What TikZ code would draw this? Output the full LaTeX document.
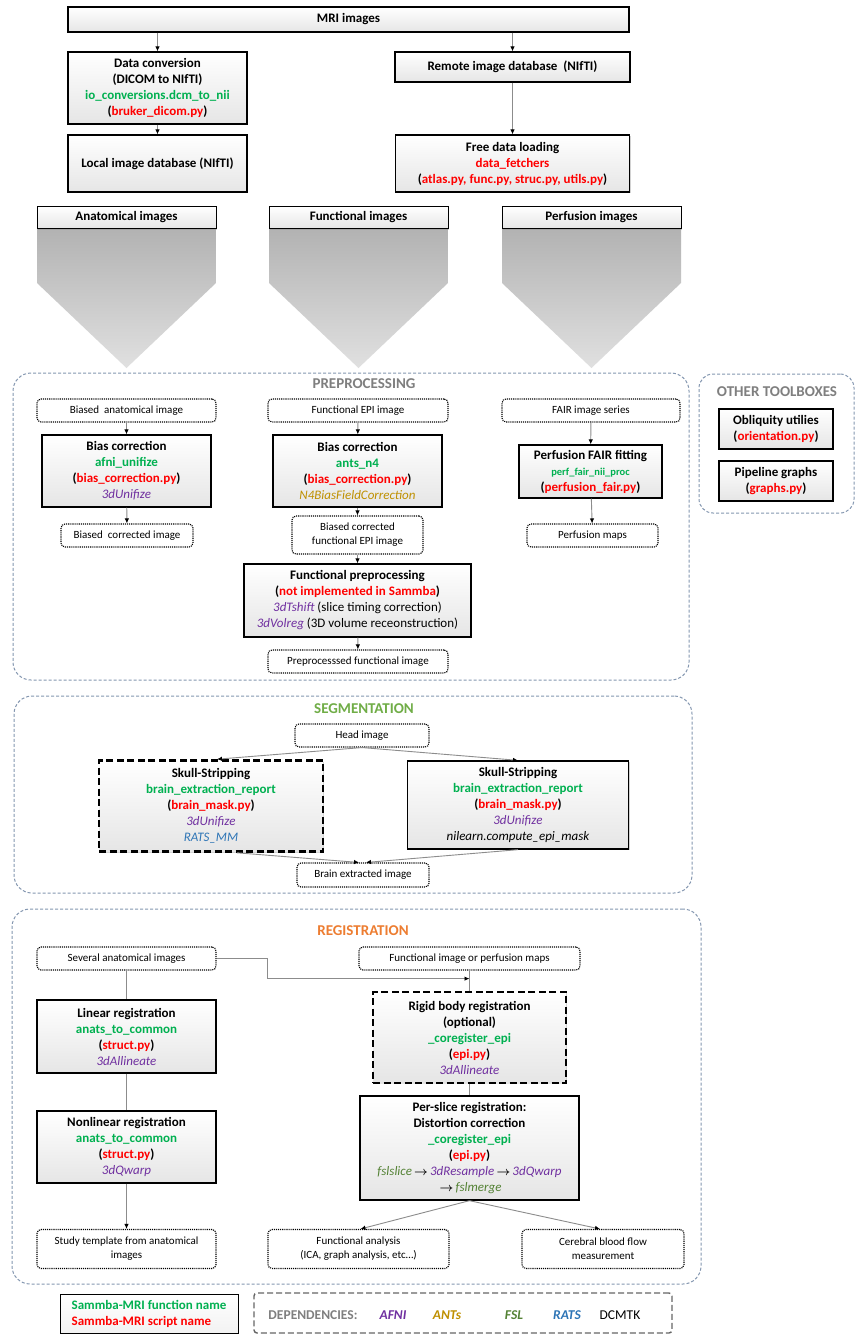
\documentclass[tikz,border=0pt]{standalone}
\usepackage{fontspec}
\setmainfont{Carlito}
\usetikzlibrary{arrows.meta,shadows,calc}
\definecolor{fgreen}{HTML}{00B050}
\definecolor{sred}{HTML}{FF0000}
\definecolor{afni}{HTML}{7030A0}
\definecolor{antsc}{HTML}{BF9000}
\definecolor{fslc}{HTML}{548235}
\definecolor{ratsc}{HTML}{2E75B6}
\definecolor{tgray}{HTML}{7F7F7F}
\definecolor{segc}{HTML}{70AD47}
\definecolor{regc}{HTML}{ED7D31}
\definecolor{framec}{HTML}{8497B0}
\definecolor{connc}{HTML}{8C8C8C}
\newcommand\fnm[1]{\textcolor{fgreen}{#1}}
\newcommand\snm[1]{(\textcolor{sred}{#1})}
\newcommand\afn[1]{\textcolor{afni}{\mdseries\itshape #1}}
\newcommand\fsln[1]{\textcolor{fslc}{\mdseries\itshape #1}}
\newcommand\rarr{\,{\boldmath$\rightarrow$}\,}
\tikzset{
  sbox/.style={draw=black, line width=1.3pt, top color=white, bottom color=black!10,
    align=center, inner sep=1pt, font=\fontsize{13}{16}\selectfont\bfseries,
    drop shadow={shadow xshift=1.3pt, shadow yshift=-1.3pt, opacity=.35}},
  tbox/.style={sbox, line width=2.6pt, dash pattern=on 7pt off 3.5pt},
  hbox/.style={draw=black, line width=1pt, top color=white, bottom color=black!10,
    align=center, inner sep=1pt, font=\fontsize{13}{16}\selectfont\bfseries,
    drop shadow={shadow xshift=1pt, shadow yshift=-1pt, opacity=.3}},
  dbox/.style={draw=black, densely dotted, line width=1.1pt, rounded corners=4pt,
    fill=white, align=center, inner sep=1pt, font=\fontsize{11}{14}\selectfont},
  cont/.style={draw=framec, line width=1pt, dash pattern=on 3pt off 2pt, rounded corners=18pt},
  ttl/.style={font=\fontsize{15}{18}\selectfont\bfseries},
  arr/.style={draw=connc, line width=0.9pt, -{Latex[length=5pt,width=4.5pt,color=black]}},
  lnk/.style={draw=connc, line width=0.9pt},
  chev/.style={top color=black!30, bottom color=black!12},
}
\begin{document}
\begin{tikzpicture}[x=1pt,y=-1pt]
\useasboundingbox (0,0) rectangle (860,1339);
\fill[white] (0,0) rectangle (860,1339);

% ---------- top ----------
\node[sbox, minimum width=561pt, minimum height=25pt] (mri) at (348.5,19.5) {MRI images};
\node[sbox, minimum width=179pt, minimum height=72pt] (dconv) at (157.5,88)
  {Data conversion\\(DICOM to NIfTI)\\\fnm{io\_conversions.dcm\_to\_nii}\\\snm{bruker\_dicom.py}};
\node[sbox, minimum width=179pt, minimum height=57pt] (local) at (157.5,163.5) {Local image database (NIfTI)};
\node[sbox, minimum width=235pt, minimum height=30pt] (remote) at (512.5,67) {Remote image database\ \ (NIfTI)};
\node[sbox, minimum width=234pt, minimum height=57pt] (free) at (512.5,163.5)
  {Free data loading\\\textcolor{sred}{data\_fetchers}\\\snm{atlas.py, func.py, struc.py, utils.py}};
\draw[arr] (mri.south -| dconv.north) -- (dconv.north);
\draw[arr] (mri.south -| remote.north) -- (remote.north);
\draw[arr] (dconv.south) -- (local.north);
\draw[arr] (remote.south) -- (free.north);

% ---------- chevrons ----------
\shade[chev] (37,229) -- (216,229) -- (216,283) -- (126.5,368) -- (37,283) -- cycle;
\shade[chev] (269,229) -- (448,229) -- (448,283) -- (358.5,368) -- (269,283) -- cycle;
\shade[chev] (502,229) -- (681,229) -- (681,283) -- (591.5,368) -- (502,283) -- cycle;
\node[hbox, minimum width=179pt, minimum height=22pt] (anat) at (126.5,217.5) {Anatomical images};
\node[hbox, minimum width=179pt, minimum height=22pt] (funci) at (358.5,217.5) {Functional images};
\node[hbox, minimum width=179pt, minimum height=22pt] (perfi) at (591.5,217.5) {Perfusion images};

% ---------- preprocessing ----------
\node[cont, minimum width=676pt, minimum height=307pt] (pre) at (351,526.5) {};
\node[ttl, text=tgray] (pretitle) at (364,384) {PREPROCESSING};
\node[dbox, minimum width=179pt, minimum height=23pt] (bai) at (126.5,410.5) {Biased\ \ anatomical image};
\node[sbox, minimum width=169pt, minimum height=72pt] (bc1) at (126.5,471)
  {Bias correction\\\fnm{afni\_unifize}\\\snm{bias\_correction.py}\\\afn{3dUnifize}};
\node[dbox, minimum width=132pt, minimum height=23pt] (bci) at (127,535.5) {Biased\ \ corrected image};
\node[dbox, minimum width=180pt, minimum height=23pt] (fepi) at (358,410.5) {Functional EPI image};
\node[sbox, minimum width=169pt, minimum height=72pt] (bc2) at (357.5,471)
  {Bias correction\\\fnm{ants\_n4}\\\snm{bias\_correction.py}\\\textcolor{antsc}{\mdseries\itshape N4BiasFieldCorrection}};
\node[dbox, minimum width=131pt, minimum height=38pt] (bcf) at (357.5,535) {Biased corrected\\functional EPI image};
\node[sbox, minimum width=227pt, minimum height=73pt] (fpre) at (357.5,600.5)
  {Functional preprocessing\\\snm{not implemented in Sammba}\\\afn{3dTshift} {\mdseries (slice timing correction)}\\\afn{3dVolreg} {\mdseries (3D volume receonstruction)}};
\node[dbox, minimum width=180pt, minimum height=23pt] (pfi) at (358,661.5) {Preprocesssed functional image};
\node[dbox, minimum width=178pt, minimum height=23pt] (fair) at (591,410.5) {FAIR image series};
\node[sbox, minimum width=143pt, minimum height=53pt] (pff) at (590.5,471.5)
  {Perfusion FAIR fitting\\{\fontsize{10.5}{14}\selectfont\fnm{perf\_fair\_nii\_proc}}\\\snm{perfusion\_fair.py}};
\node[dbox, minimum width=131pt, minimum height=23pt] (pm) at (592.5,535.5) {Perfusion maps};
\draw[arr] (bai) -- (bc1);
\draw[arr] (bc1) -- (bci);
\draw[arr] (fepi) -- (bc2);
\draw[arr] (bc2) -- (bcf);
\draw[arr] (bcf) -- (fpre);
\draw[arr] (fpre) -- (pfi);
\draw[arr] (fair) -- (pff);
\draw[arr] (pff) -- (pm);

% ---------- other toolboxes ----------
\node[cont, rounded corners=14pt, minimum width=155pt, minimum height=139pt] (oth) at (776.5,443.5) {};
\node[ttl, text=tgray] (othtitle) at (777,392) {OTHER TOOLBOXES};
\node[sbox, minimum width=114pt, minimum height=40pt] (obl) at (776,429) {Obliquity utilies\\\snm{orientation.py}};
\node[sbox, minimum width=114pt, minimum height=40pt] (pg) at (776,481) {Pipeline graphs\\\snm{graphs.py}};

% ---------- segmentation ----------
\node[cont, minimum width=678pt, minimum height=197pt] (seg) at (353,794.5) {};
\node[ttl, text=segc] (segtitle) at (364,709) {SEGMENTATION};
\node[dbox, minimum width=134pt, minimum height=23pt] (head) at (362,735.5) {Head image};
\node[tbox, minimum width=224pt, minimum height=91pt] (ss1) at (211,806)
  {Skull-Stripping\\\fnm{brain\_extraction\_report}\\\snm{brain\_mask.py}\\\afn{3dUnifize}\\\textcolor{ratsc}{\mdseries\itshape RATS\_MM}};
\node[sbox, minimum width=221pt, minimum height=88pt] (ss2) at (518,805)
  {Skull-Stripping\\\fnm{brain\_extraction\_report}\\\snm{brain\_mask.py}\\\afn{3dUnifize}\\{\mdseries\itshape nilearn.compute\_epi\_mask}};
\node[dbox, minimum width=132pt, minimum height=24pt] (bei) at (363,875) {Brain extracted image};
\draw[arr] (head.south) -- ([xshift=6pt]ss1.north);
\draw[arr] (head.south) -- (ss2.north);
\draw[arr] ([xshift=26pt]ss1.south) -- ([xshift=-4pt]bei.north);
\draw[arr] (ss2.south) -- ([xshift=3pt]bei.north);

% ---------- registration ----------
\node[cont, minimum width=689pt, minimum height=375pt] (reg) at (356.5,1096.5) {};
\node[ttl, text=regc] (regtitle) at (363,931) {REGISTRATION};
\node[dbox, minimum width=179pt, minimum height=23pt] (sai) at (126.5,958.5) {Several anatomical images};
\node[dbox, minimum width=221pt, minimum height=23pt] (fipm) at (469.5,958.5) {Functional image or perfusion maps};
\node[tbox, minimum width=193pt, minimum height=91pt] (rigid) at (469.5,1037.5)
  {Rigid body registration\\(optional)\\\fnm{\_coregister\_epi}\\\snm{epi.py}\\\afn{3dAllineate}};
\node[sbox, minimum width=219pt, minimum height=104pt] (pslice) at (469.5,1148)
  {Per-slice registration:\\Distortion correction\\\fnm{\_coregister\_epi}\\\snm{epi.py}\\\fsln{fslslice}\rarr\afn{3dResample}\rarr\afn{3dQwarp}\\\rarr\fsln{fslmerge}};
\node[sbox, minimum width=179pt, minimum height=73pt] (lin) at (126.5,1036.5)
  {Linear registration\\\fnm{anats\_to\_common}\\\snm{struct.py}\\\afn{3dAllineate}};
\node[sbox, minimum width=179pt, minimum height=72pt] (nonlin) at (126.5,1147)
  {Nonlinear registration\\\fnm{anats\_to\_common}\\\snm{struct.py}\\\afn{3dQwarp}};
\node[dbox, minimum width=179pt, minimum height=39pt] (stt) at (126.5,1249) {Study template from anatomical\\images};
\node[dbox, minimum width=181pt, minimum height=39pt] (fa) at (358.5,1249) {Functional analysis\\(ICA, graph analysis, etc…)};
\node[dbox, minimum width=162pt, minimum height=39pt] (cbf) at (603,1249) {Cerebral blood flow\\measurement};
\coordinate (rj) at ($(fipm.south)!0.4!(rigid.north)$);
\draw[arr] (sai.east) -- ++(51,0) |- (rj);
\draw[lnk] (fipm.south) -- (rigid.north);
\draw[lnk] (rigid.south) -- (pslice.north);
\draw[lnk] (sai.south) -- (lin.north);
\draw[lnk] (lin.south) -- (nonlin.north);
\draw[arr] (nonlin.south) -- (stt.north);
\draw[arr] (pslice.south) -- ([xshift=2pt]fa.north);
\draw[arr] (pslice.south) -- ([xshift=-3pt]cbf.north);

% ---------- legend ----------
\node[sbox, line width=1pt, bottom color=black!5, align=left, minimum width=178pt, minimum height=39pt] (sam) at (149,1313.5)
  {\fnm{Sammba-MRI function name}\\\textcolor{sred}{Sammba-MRI script name}};
\node[draw=black!60, line width=1.4pt, dash pattern=on 6pt off 3pt, rounded corners=3pt, minimum width=418pt, minimum height=40pt] (deps) at (463,1313) {};
\node[font=\fontsize{13.5}{16}\selectfont\bfseries, text=tgray] (dlab) at (313,1315) {DEPENDENCIES:};
\node[font=\fontsize{13.5}{16}\selectfont\bfseries\itshape, text=afni] (dafni) at (393,1315) {AFNI};
\node[font=\fontsize{13.5}{16}\selectfont\bfseries\itshape, text=antsc] (dants) at (447,1315) {ANTs};
\node[font=\fontsize{13.5}{16}\selectfont\bfseries\itshape, text=fslc] (dfsl) at (514,1315) {FSL};
\node[font=\fontsize{13.5}{16}\selectfont\bfseries\itshape, text=ratsc] (drats) at (567,1315) {RATS};
\node[font=\fontsize{13.5}{16}\selectfont, text=black] (ddcm) at (620,1315) {DCMTK};
\end{tikzpicture}
\end{document}
